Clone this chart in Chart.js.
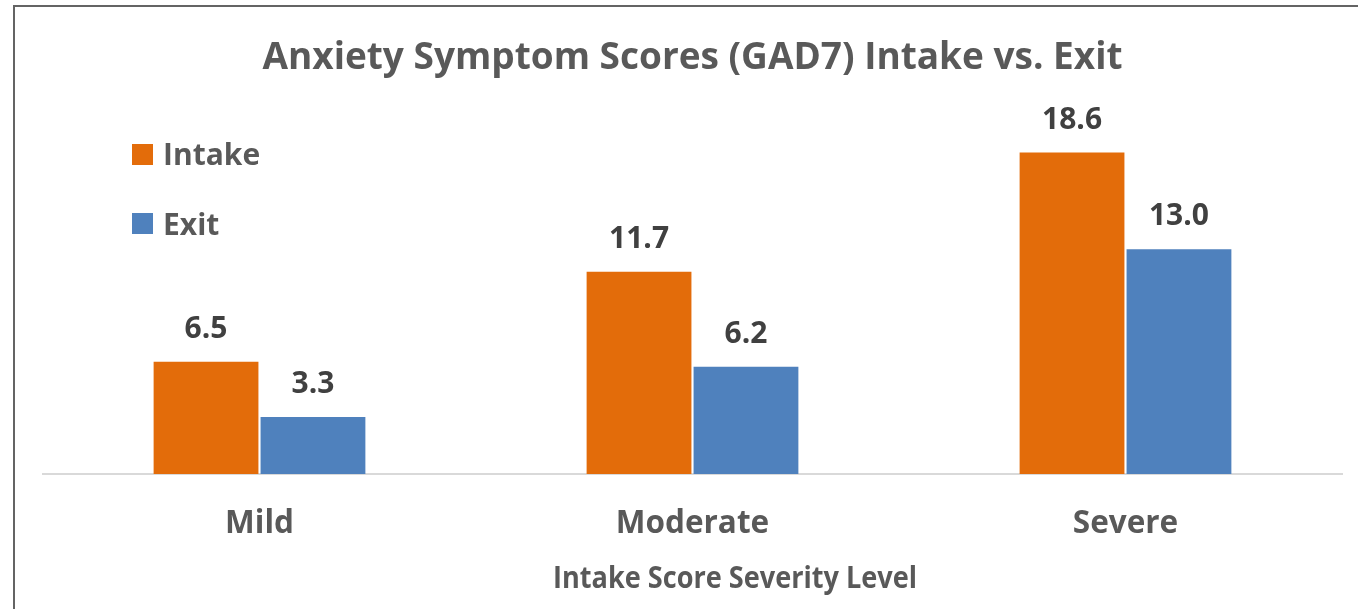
<!DOCTYPE html>
<html><head><meta charset="utf-8">
<script src="https://cdn.jsdelivr.net/npm/chart.js@4.4.1/dist/chart.umd.min.js"></script>
<style>
html,body{margin:0;padding:0;background:#fff;}
#wrap{position:relative;width:1358px;height:609px;overflow:hidden;}
#frame{position:absolute;left:13px;top:5px;width:2000px;height:1000px;border-left:2px solid #646464;border-top:2px solid #646464;}
canvas{position:absolute;left:0;top:0;}
</style></head><body>
<div id="wrap"><div id="frame"></div><canvas id="c" width="1358" height="609"></canvas></div>
<script>
const categories = ['Mild', 'Moderate', 'Severe'];
const seriesLabels = ['Intake', 'Exit'];
const intakeValues = [6.5, 11.7, 18.6];
const exitValues = [3.3, 6.2, 13.0];
const chartTitle = 'Anxiety Symptom Scores (GAD7) Intake vs. Exit';
const xAxisTitle = 'Intake Score Severity Level';
const yMin = 0;
const yMax = 20;

const FONT = '"Open Sans", Lato, sans-serif';
const TEXT = '#595959';
const COLORS = ['#E36C0A', '#4F81BD'];

const overlay = {
  id: 'overlay',
  afterDatasetsDraw(chart) {
    const ctx = chart.ctx;
    ctx.save();
    // data labels
    ctx.font = 'bold 30px ' + FONT;
    ctx.fillStyle = '#404040';
    ctx.textAlign = 'center';
    ctx.textBaseline = 'alphabetic';
    chart.data.datasets.forEach((ds, i) => {
      const meta = chart.getDatasetMeta(i);
      meta.data.forEach((bar, j) => {
        ctx.fillText(ds.data[j].toFixed(1), bar.x, bar.y - 24);
      });
    });
    // legend
    ctx.font = 'bold 30px ' + FONT;
    ctx.textAlign = 'left';
    const legendRows = [{sq: 144, base: 165}, {sq: 213, base: 235}];
    chart.data.datasets.forEach((ds, i) => {
      ctx.fillStyle = ds.backgroundColor;
      ctx.fillRect(132, legendRows[i].sq, 21, 21);
      ctx.fillStyle = TEXT;
      ctx.fillText(ds.label, 163, legendRows[i].base);
    });
    // axis title (condensed bold, centred at 735)
    ctx.font = 'bold 31px ' + FONT;
    ctx.textAlign = 'center';
    ctx.fillStyle = TEXT;
    const w = ctx.measureText(xAxisTitle).width;
    const sx = Math.min(1, 364 / w);
    ctx.translate(735, 588);
    ctx.scale(sx, 1);
    ctx.fillText(xAxisTitle, 0, 0);
    ctx.restore();
  }
};

new Chart(document.getElementById('c'), {
  type: 'bar',
  data: {
    labels: categories,
    datasets: [
      { label: seriesLabels[0], data: intakeValues, backgroundColor: COLORS[0] },
      { label: seriesLabels[1], data: exitValues, backgroundColor: COLORS[1] }
    ]
  },
  options: {
    responsive: false,
    animation: false,
    layout: { padding: { left: 43, right: 16, top: 0, bottom: 0 } },
    datasets: { bar: { categoryPercentage: 0.494, barPercentage: 0.98 } },
    plugins: {
      legend: { display: false },
      tooltip: { enabled: false },
      title: {
        display: true,
        text: chartTitle,
        color: TEXT,
        font: { family: FONT, size: 37, weight: 'bold', lineHeight: 1.2 },
        padding: { top: 36, bottom: 48 }
      }
    },
    scales: {
      x: {
        grid: { display: false, drawTicks: false },
        border: { display: true, color: '#D9D9D9', width: 2 },
        ticks: { color: TEXT, font: { family: FONT, size: 31.5, weight: 'bold' }, padding: 31 },
        afterFit: (s) => { s.height = 135; }
      },
      y: {
        display: false,
        min: yMin,
        max: yMax
      }
    }
  },
  plugins: [overlay]
});
</script>
</body></html>
